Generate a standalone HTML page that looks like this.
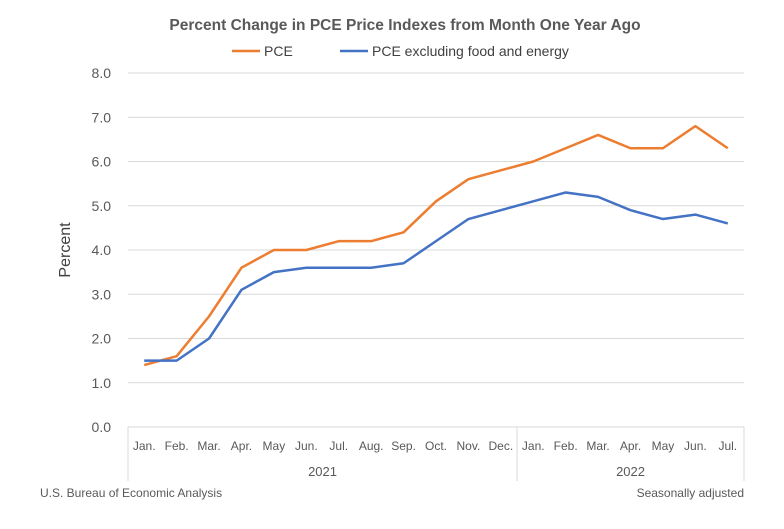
<!DOCTYPE html>
<html><head><meta charset="utf-8"><style>
body{margin:0;background:#fff;}
svg{font-family:"Liberation Sans",sans-serif;}
</style></head><body>
<svg id="chart" width="784" height="524">
<text x="405" y="30" text-anchor="middle" font-size="15.5" font-weight="bold" fill="#595959">Percent Change in PCE Price Indexes from Month One Year Ago</text>
<g>
<line x1="232" y1="51" x2="260" y2="51" stroke="#ED7D31" stroke-width="2.5"/>
<text x="264" y="56" font-size="14" fill="#404040">PCE</text>
<line x1="340" y1="51" x2="368" y2="51" stroke="#4472C4" stroke-width="2.5"/>
<text x="372" y="56" font-size="14" fill="#404040">PCE excluding food and energy</text>
</g>
<text transform="translate(70,250) rotate(-90)" text-anchor="middle" font-size="16" fill="#404040">Percent</text>
<g id="grid"></g><g id="axes"></g><g id="series"></g>
<text x="40" y="497" font-size="12" fill="#595959">U.S. Bureau of Economic Analysis</text>
<text x="744" y="497" text-anchor="end" font-size="12" fill="#595959">Seasonally adjusted</text>
</svg>
<script>
const months=["Jan.","Feb.","Mar.","Apr.","May","Jun.","Jul.","Aug.","Sep.","Oct.","Nov.","Dec.","Jan.","Feb.","Mar.","Apr.","May","Jun.","Jul."];
const years=["2021","2022"];
const yearCounts=[12,7];
const pce=[1.4,1.6,2.5,3.6,4.0,4.0,4.2,4.2,4.4,5.1,5.6,5.8,6.0,6.3,6.6,6.3,6.3,6.8,6.3];
const core=[1.5,1.5,2.0,3.1,3.5,3.6,3.6,3.6,3.7,4.2,4.7,4.9,5.1,5.3,5.2,4.9,4.7,4.8,4.6];
const yTicks=[0,1,2,3,4,5,6,7,8];
const NS="http://www.w3.org/2000/svg";
const L=128,R=744,T=73,B=427,yMax=8;
const bw=(R-L)/months.length;
const xs=i=>L+bw*(i+0.5);
const ys=v=>B-(v/yMax)*(B-T);
function mk(tag,attrs,parent){const e=document.createElementNS(NS,tag);for(const k in attrs)e.setAttribute(k,attrs[k]);document.getElementById(parent).appendChild(e);return e;}
yTicks.forEach(v=>{
 const g=mk("line",{x1:L,x2:R,y1:ys(v),y2:ys(v),stroke:"#d9d9d9","stroke-width":1},"grid");
 
 
 const t=mk("text",{x:111,y:ys(v)+5,"text-anchor":"end","font-size":14,fill:"#595959"},"axes");
 t.textContent=v.toFixed(1);
 
 
});
months.forEach((m,i)=>{
 const t=mk("text",{x:xs(i),y:450,"text-anchor":"middle","font-size":12,fill:"#595959"},"axes");
 t.textContent=m;
 
 
});
let start=0;
const edges=[0];
years.forEach((y,k)=>{
 const end=start+yearCounts[k];
 const t=mk("text",{x:L+bw*(start+end)/2,y:476,"text-anchor":"middle","font-size":13,fill:"#595959"},"axes");
 t.textContent=y;
 
 
 edges.push(end);start=end;
});
edges.forEach(e=>{
 const l=mk("line",{x1:L+bw*e,x2:L+bw*e,y1:B,y2:481,stroke:"#d9d9d9","stroke-width":1},"axes");
 
 
});
[[pce,"#ED7D31","pce-line"],[core,"#4472C4","core-pce-line"]].forEach(([d,c,n])=>{
 const p=mk("polyline",{points:d.map((v,i)=>xs(i)+","+ys(v)).join(" "),fill:"none",stroke:c,"stroke-width":2.5,"stroke-linejoin":"round"},"series");
 
 
});
</script>
</body></html>
